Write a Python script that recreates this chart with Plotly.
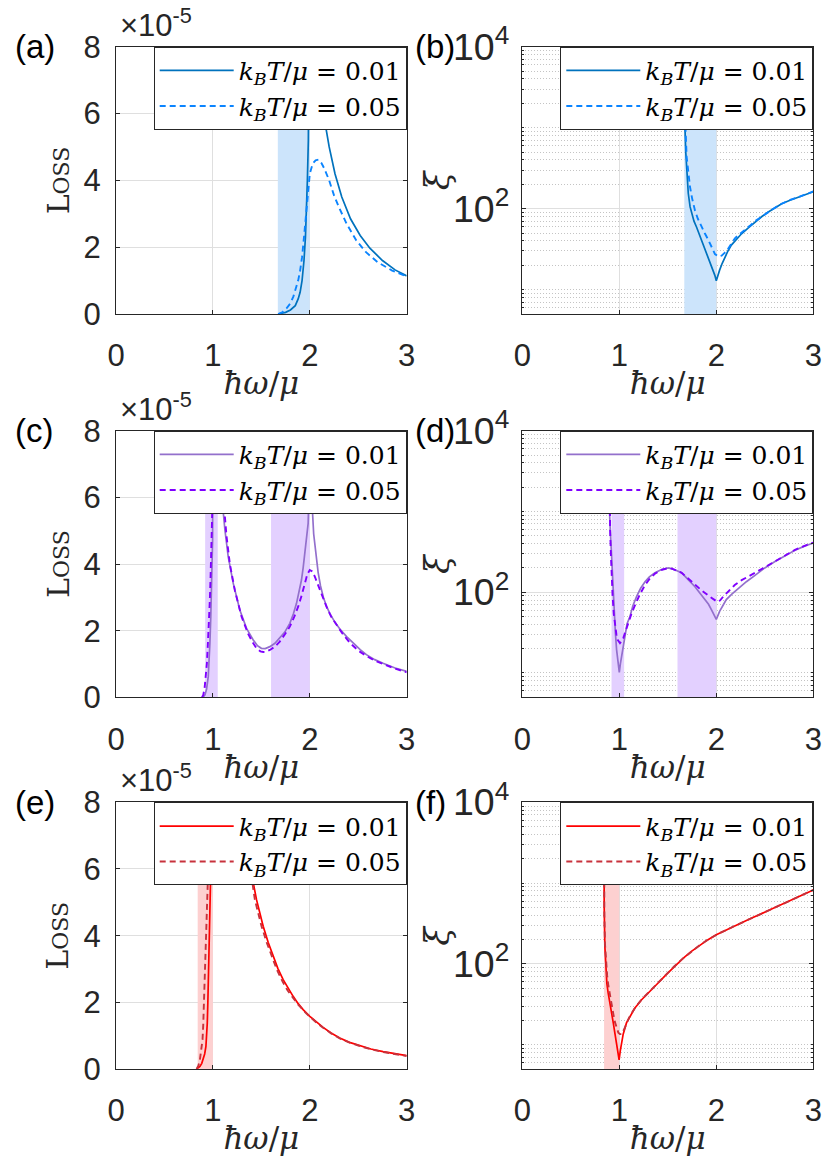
import plotly.graph_objects as go

# x axis: hbar*omega/mu.  Loss is given in units of 1e-5, xi is plotted on a log axis.
# "1" = k_B T/mu = 0.01 (solid), "5" = k_B T/mu = 0.05 (dashed)

# ---- (a) Loss, blue
wa1 = [1.673, 1.75, 1.80, 1.85, 1.88, 1.90, 1.92, 1.94, 1.955, 1.965, 1.975, 1.985, 1.993, 2.0,
       2.06, 2.11, 2.155, 2.2, 2.26, 2.33, 2.42, 2.52, 2.62, 2.75, 2.88, 3.0]
la1 = [0, 0.05, 0.12, 0.25, 0.45, 0.65, 1.0, 1.6, 2.3, 3.0, 4.0, 5.2, 7.0, 12,
       8.5, 6.9, 5.76, 5.0, 4.2, 3.5, 2.85, 2.35, 1.97, 1.6, 1.32, 1.14]
wa5 = [1.673, 1.72, 1.76, 1.80, 1.83, 1.86, 1.88, 1.90, 1.92, 1.94, 1.96, 1.98, 2.0, 2.03,
       2.06, 2.09, 2.12, 2.15, 2.2, 2.25, 2.3, 2.38, 2.48, 2.58, 2.7, 2.85, 3.0]
la5 = [0, 0.06, 0.17, 0.32, 0.52, 0.8, 1.0, 1.3, 1.7, 2.3, 3.0, 3.7, 4.2, 4.5,
       4.6, 4.62, 4.52, 4.35, 4.0, 3.55, 3.2, 2.7, 2.2, 1.85, 1.55, 1.3, 1.12]

# ---- (b) xi, blue
wb1 = [1.670, 1.672, 1.677, 1.685, 1.694, 1.711, 1.73, 1.746, 1.77, 1.797, 1.82, 1.849, 1.88,
       1.918, 1.945, 1.969, 1.985, 2.0, 2.01, 2.034, 2.06, 2.086, 2.12, 2.155, 2.2, 2.26, 2.33,
       2.40, 2.47, 2.536, 2.6, 2.674, 2.76, 2.845, 2.92, 3.0]
xb1 = [1e5, 5000, 1000, 500, 330, 155, 105, 87, 70, 59, 50, 41, 32,
       25, 20.5, 17.4, 15, 12.9, 14.3, 17.4, 21, 25, 30, 35.5, 41, 49, 58,
       69, 80, 91, 102, 115, 127, 138, 150, 162]
wb5 = [1.670, 1.673, 1.68, 1.694, 1.71, 1.729, 1.75, 1.78, 1.81, 1.849, 1.88, 1.918, 1.95,
       1.986, 2.02, 2.055, 2.08, 2.107, 2.15, 2.192, 2.24, 2.296, 2.35, 2.40, 2.47, 2.536,
       2.6, 2.674, 2.76, 2.845, 2.92, 3.0]
xb5 = [1e5, 3000, 1200, 437, 270, 186, 135, 95, 75, 59, 50, 41, 34,
       27.5, 25.7, 26.3, 28, 30, 36, 43, 48.5, 54.5, 62, 70, 80, 91,
       102, 115, 128, 139, 151, 163]

# ---- (c) Loss, purple
wc1 = [0.89, 0.905, 0.918, 0.935, 0.952, 0.962, 0.969, 0.978, 0.986, 0.992, 0.997, 1.0,
       1.03, 1.06, 1.08, 1.10, 1.124, 1.158, 1.21, 1.278, 1.347, 1.416, 1.46, 1.50, 1.54,
       1.588, 1.64, 1.69, 1.74, 1.794, 1.83, 1.863, 1.89, 1.914, 1.932, 1.948, 1.966, 1.983,
       1.995, 2.0, 2.012, 2.024, 2.04, 2.06, 2.086, 2.11, 2.14, 2.17, 2.206, 2.26, 2.31,
       2.38, 2.447, 2.52, 2.584, 2.67, 2.756, 2.88, 3.0]
lc1 = [0, 0.02, 0.07, 0.25, 0.62, 1.1, 1.62, 2.4, 3.22, 4.0, 4.72, 14,
       10, 7.8, 6.6, 5.77, 5.02, 4.22, 3.42, 2.62, 2.07, 1.72, 1.55, 1.47, 1.46,
       1.52, 1.62, 1.77, 1.95, 2.22, 2.5, 2.82, 3.15, 3.52, 3.9, 4.32, 4.75, 5.22,
       6.5, 12, 7.5, 5.77, 4.9, 4.3, 3.75, 3.35, 3.0, 2.75, 2.52, 2.25, 2.05,
       1.82, 1.62, 1.43, 1.28, 1.13, 1.02, 0.88, 0.78]
wc5 = [0.887, 0.90, 0.914, 0.926, 0.938, 0.948, 0.959, 0.968, 0.976, 0.983, 0.99, 0.997,
       1.01, 1.03, 1.05, 1.08, 1.11, 1.14, 1.175, 1.227, 1.296, 1.364, 1.41, 1.45, 1.49,
       1.519, 1.55, 1.588, 1.64, 1.69, 1.74, 1.794, 1.84, 1.88, 1.915, 1.948, 1.975, 2.0,
       2.025, 2.052, 2.08, 2.103, 2.14, 2.172, 2.22, 2.275, 2.34, 2.412, 2.5, 2.584, 2.67,
       2.756, 2.88, 3.0]
lc5 = [0, 0.06, 0.27, 0.6, 1.02, 1.6, 2.22, 2.9, 3.62, 4.3, 5.02, 6.0,
       9.0, 10.5, 9.5, 7.3, 5.9, 4.85, 4.0, 3.2, 2.42, 1.9, 1.65, 1.47, 1.38,
       1.36, 1.37, 1.42, 1.52, 1.67, 1.88, 2.12, 2.42, 2.72, 3.05, 3.42, 3.7, 3.82,
       3.78, 3.62, 3.4, 3.22, 2.95, 2.72, 2.42, 2.17, 1.9, 1.64, 1.4, 1.24, 1.1,
       1.0, 0.86, 0.75]

# ---- (d) xi, purple
wd1 = [0.893, 0.895, 0.897, 0.904, 0.911, 0.92, 0.928, 0.938, 0.948, 0.96, 0.972, 0.982,
       0.99, 1.0, 1.012, 1.024, 1.04, 1.058, 1.08, 1.11, 1.14, 1.179, 1.22, 1.265, 1.31,
       1.368, 1.43, 1.505, 1.57, 1.643, 1.71, 1.78, 1.83, 1.883, 1.92, 1.952, 1.98, 2.0,
       2.015, 2.034, 2.07, 2.103, 2.16, 2.227, 2.31, 2.399, 2.5, 2.605, 2.71, 2.811, 2.91, 3.0]
xd1 = [1e5, 3000, 1200, 700, 447, 250, 155, 85, 50, 31, 19.5, 14.8,
       12, 10.2, 13.2, 16.2, 23, 31, 40.7, 50, 68, 89, 112, 135, 155,
       174, 190, 200, 190, 174, 145, 117, 98, 81, 71, 60, 51, 46,
       51, 58, 69, 81, 95, 112, 135, 162, 200, 240, 282, 331, 372, 407]
wd5 = [0.893, 0.897, 0.905, 0.914, 0.922, 0.931, 0.943, 0.955, 0.97, 0.983, 0.995, 1.007,
       1.02, 1.041, 1.065, 1.093, 1.125, 1.162, 1.21, 1.265, 1.31, 1.368, 1.44, 1.522, 1.58,
       1.643, 1.71, 1.78, 1.85, 1.918, 1.96, 1.986, 2.01, 2.038, 2.08, 2.124, 2.19, 2.261,
       2.33, 2.399, 2.5, 2.605, 2.71, 2.811, 2.91, 3.0]
xd5 = [1e5, 1200, 600, 275, 141, 89, 54, 38, 30, 25.7, 24, 23.4,
       24.5, 27, 33, 41.7, 54, 69, 93, 123, 145, 170, 190, 201, 188,
       174, 148, 124, 105, 91, 83, 78, 76, 79, 91, 102, 123, 141,
       158, 174, 204, 243, 285, 335, 376, 412]

# ---- (e) Loss, red
we1 = [0.832, 0.85, 0.866, 0.885, 0.9, 0.915, 0.928, 0.936, 0.942, 0.948, 0.955, 0.962,
       0.969, 0.976, 0.985, 0.995, 1.0, 1.1, 1.2, 1.3, 1.36, 1.405, 1.45, 1.519, 1.57,
       1.622, 1.67, 1.725, 1.78, 1.828, 1.88, 1.931, 2.0, 2.07, 2.137, 2.22, 2.309, 2.41,
       2.515, 2.63, 2.756, 2.88, 3.0]
le1 = [0, 0.03, 0.08, 0.17, 0.28, 0.45, 0.68, 0.95, 1.38, 2.0, 2.88, 3.6,
       4.38, 5.68, 8, 12, 20, 12, 9, 7.2, 6.4, 5.76, 5.08, 4.28, 3.8,
       3.38, 3.02, 2.68, 2.4, 2.18, 1.96, 1.78, 1.58, 1.4, 1.25, 1.08, 0.93, 0.8,
       0.7, 0.6, 0.52, 0.45, 0.40]
we5 = [0.832, 0.85, 0.866, 0.88, 0.893, 0.9, 0.907, 0.914, 0.921, 0.928, 0.935, 0.942,
       0.948, 0.955, 0.97, 1.0, 1.1, 1.2, 1.3, 1.35, 1.399, 1.433, 1.502, 1.555, 1.605,
       1.66, 1.718, 1.77, 1.828, 1.88, 1.966, 2.0, 2.07, 2.137, 2.22, 2.309, 2.41, 2.515,
       2.63, 2.756, 2.88, 3.0]
le5 = [0, 0.1, 0.28, 0.55, 0.88, 1.3, 1.88, 2.45, 3.08, 3.7, 4.38, 5.0,
       5.68, 6.5, 8, 12, 11, 8.5, 6.9, 6.3, 5.76, 5.08, 4.28, 3.8, 3.38,
       2.98, 2.63, 2.36, 2.13, 1.93, 1.66, 1.57, 1.39, 1.24, 1.07, 0.92, 0.79, 0.69,
       0.59, 0.51, 0.45, 0.39]

# ---- (f) xi, red
wf1 = [0.840, 0.842, 0.844, 0.851, 0.861, 0.872, 0.885, 0.90, 0.92, 0.94, 0.954, 0.968,
       0.981, 0.998, 1.01, 1.022, 1.04, 1.074, 1.11, 1.159, 1.23, 1.311, 1.4, 1.486, 1.57,
       1.657, 1.74, 1.828, 1.91, 2.0, 2.171, 2.343, 2.514, 2.686, 2.857, 3.0]
xf1 = [1e5, 1500, 518, 166, 77, 57, 43.7, 33, 24.8, 18, 14, 11,
       8.7, 6.5, 8.4, 10.5, 13.5, 18.6, 22.5, 28.2, 36, 45.7, 58, 74, 94,
       117, 142, 170, 198, 229, 288, 359, 444, 552, 679, 822]
wf5 = [0.840, 0.842, 0.846, 0.852, 0.863, 0.875, 0.887, 0.905, 0.921, 0.94, 0.955, 0.97,
       0.99, 1.007, 1.024, 1.05, 1.076, 1.1, 1.127, 1.17, 1.23, 1.311, 1.4, 1.486, 1.57,
       1.657, 1.74, 1.828, 1.91, 2.0, 2.171, 2.343, 2.514, 2.686, 2.857, 3.0]
xf5 = [1e5, 1200, 400, 180, 105, 71, 54, 39, 30, 23.4, 19, 16.2,
       14.1, 13.5, 13.5, 15.5, 18.8, 21.5, 24.5, 29.5, 36.2, 45.7, 58, 74, 94,
       117, 142, 170, 198, 229, 288, 359, 444, 552, 679, 822]

# shaded frequency windows (same for both panels in a row)
band_a = [[1.67, 2.0]]
band_c = [[0.92, 1.05], [1.6, 2.0]]
band_e = [[0.843, 1.0]]
# vertical extent of the shading, beyond each axis range so it fills the panel
span_loss = [0, 8]
span_xi = [1, 1e5]

name1 = "<i>k</i><sub><i>B</i></sub><i>T</i>/<i>μ</i> = 0.01"
name5 = "<i>k</i><sub><i>B</i></sub><i>T</i>/<i>μ</i> = 0.05"

INK = "#262626"
GRID = "#dfdfdf"
SANS = "Liberation Sans"
SERIF = "DejaVu Serif"

rows = [
    dict(bands=band_a, c1="#0072BD", c5="#0A84FF", fill="#CCE4FB",
         loss=(wa1, la1, wa5, la5), xi=(wb1, xb1, wb5, xb5), tags=("(a)", "(b)")),
    dict(bands=band_c, c1="#9370CC", c5="#8000FF", fill="#E3D0FF",
         loss=(wc1, lc1, wc5, lc5), xi=(wd1, xd1, wd5, xd5), tags=("(c)", "(d)")),
    dict(bands=band_e, c1="#FF0000", c5="#C8323C", fill="#FDD0D0",
         loss=(we1, le1, we5, le5), xi=(wf1, xf1, wf5, xf5), tags=("(e)", "(f)")),
]

W, H = 830, 1163
xdoms = [[116 / W, 406.7 / W], [522.3 / W, 813.3 / W]]
ydoms = [[1 - 314 / H, 1 - 46.7 / H], [1 - 697.3 / H, 1 - 430.7 / H], [1 - 1069 / H, 1 - 802.3 / H]]

fig = go.Figure()
layout = {}
annotations = []

for r, row in enumerate(rows):
    for c in range(2):
        k = 2 * r + c + 1
        sfx = "" if k == 1 else str(k)
        lg = "legend" + sfx
        xd, yd = xdoms[c], ydoms[r]
        w1, v1, w5, v5 = row["loss"] if c == 0 else row["xi"]
        lo, hi = span_loss if c == 0 else span_xi

        for b0, b1 in row["bands"]:
            fig.add_trace(go.Scatter(x=[b0, b1, b1, b0, b0], y=[lo, lo, hi, hi, lo],
                                     mode="lines", fill="toself", fillcolor=row["fill"],
                                     line=dict(width=0), hoverinfo="skip", showlegend=False,
                                     xaxis="x" + sfx, yaxis="y" + sfx))

        fig.add_trace(go.Scatter(x=w1, y=v1, mode="lines", name=name1,
                                 line=dict(color=row["c1"], width=1.7),
                                 xaxis="x" + sfx, yaxis="y" + sfx, legend=lg))
        fig.add_trace(go.Scatter(x=w5, y=v5, mode="lines", name=name5,
                                 line=dict(color=row["c5"], width=1.9, dash="6px,4px"),
                                 xaxis="x" + sfx, yaxis="y" + sfx, legend=lg))

        layout["xaxis" + sfx] = dict(
            domain=xd, anchor="y" + sfx, range=[0, 3], dtick=1, tick0=0,
            showline=True, mirror="ticks", linecolor=INK, linewidth=1,
            ticks="inside", ticklen=4, tickcolor=INK, ticklabelstandoff=14,
            showgrid=True, gridcolor=GRID, gridwidth=1, zeroline=False,
            tickfont=dict(family=SANS, size=31, color=INK),
            title=dict(text="<i>ħω</i>/<i>μ</i>", standoff=0,
                       font=dict(family=SERIF, size=31, color=INK)),
            automargin=False)

        yax = dict(
            domain=yd, anchor="x" + sfx,
            showline=True, mirror="ticks", linecolor=INK, linewidth=1,
            ticks="inside", ticklen=4, tickcolor=INK,
            showgrid=True, gridcolor=GRID, gridwidth=1, zeroline=False, automargin=False)
        if c == 0:
            yax.update(range=[0, 8], dtick=2, tick0=0, ticklabelstandoff=8,
                       tickfont=dict(family=SANS, size=31, color=INK))
            ytitle, tx = "L<span style='font-size:22px'>OSS</span>", 58
        else:
            yax.update(type="log", range=[0.699, 4], dtick=2, tick0=0, exponentformat="power",
                       ticklabelstandoff=6, tickfont=dict(family=SANS, size=30, color=INK),
                       minor=dict(dtick="D1", ticks="inside", ticklen=2, tickcolor=INK,
                                  showgrid=True, gridcolor="#c4c4c4", griddash="1px,2px",
                                  gridwidth=1))
            ytitle, tx = "<i>ξ</i>", 437
        layout["yaxis" + sfx] = yax

        annotations.append(dict(text=ytitle, xref="paper", yref="paper", x=tx / W,
                                y=(yd[0] + yd[1]) / 2, xanchor="center", yanchor="middle",
                                textangle=-90, showarrow=False,
                                font=dict(family=SERIF, size=30 if c == 0 else 34, color=INK)))

        layout[lg] = dict(x=xd[1], y=yd[1], xanchor="right", yanchor="top",
                          bgcolor="white", bordercolor=INK, borderwidth=1,
                          font=dict(family=SERIF, size=25, color="black"),
                          itemwidth=74, tracegroupgap=0)

        lx = 13 / W if c == 0 else 413 / W
        annotations.append(dict(text=row["tags"][c], xref="paper", yref="paper",
                                x=lx, y=yd[1], xanchor="left", yanchor="middle",
                                showarrow=False, font=dict(family=SANS, size=33, color="black")))
        if c == 0:
            annotations.append(dict(text="×10<sup>-5</sup>", xref="paper", yref="paper",
                                    x=xd[0] + 2 / W, y=yd[1] + 2 / H, xanchor="left",
                                    yanchor="bottom", showarrow=False,
                                    font=dict(family=SANS, size=31, color=INK)))

fig.update_layout(**layout)
fig.update_layout(width=W, height=H, margin=dict(l=0, r=0, t=0, b=0),
                  paper_bgcolor="white", plot_bgcolor="white",
                  annotations=annotations)

# the page body carries a default margin; drop it so the figure sits at the window's corner
fig.write_html("out.html", config={"displayModeBar": False},
               post_script="document.body.style.margin='0px';")
